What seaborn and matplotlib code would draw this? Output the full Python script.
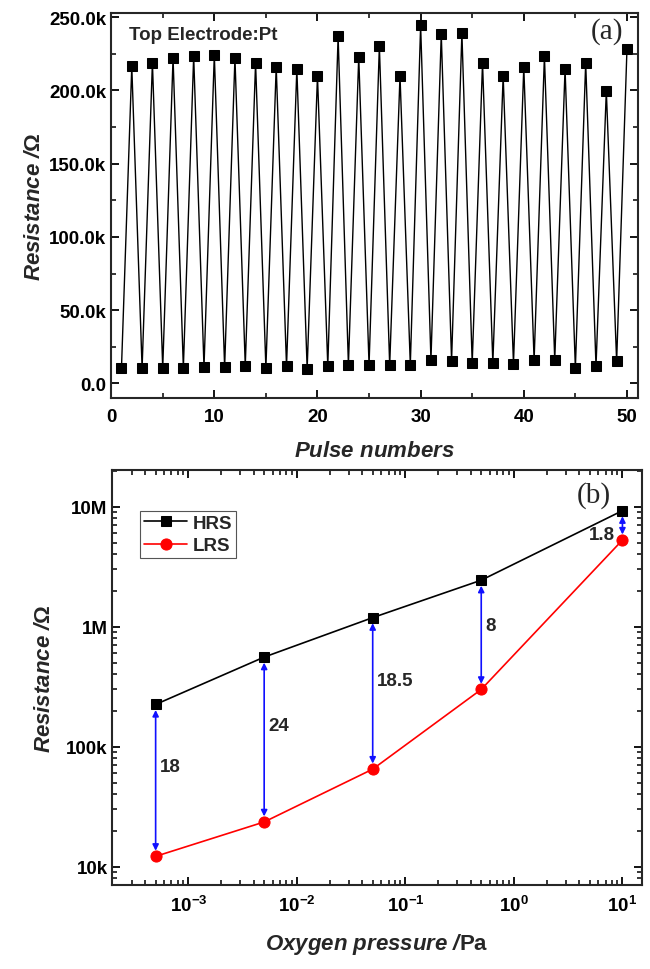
import numpy as np
import pandas as pd
import matplotlib
matplotlib.use('Agg')
import matplotlib.pyplot as plt
import matplotlib.ticker as mticker
import seaborn as sns

# ----------------------------------------------------
# Datos
# ----------------------------------------------------
pulse_low = [1, 3, 5, 7, 9, 11, 13, 15, 17, 19, 21, 23, 25, 27, 29,
             31, 33, 35, 37, 39, 41, 43, 45, 47, 49]
res_low_k = [10.3, 10.3, 10.5, 10.5, 10.9, 10.9, 12.0, 10.5, 11.6, 10.0,
             11.8, 12.5, 12.5, 12.3, 12.7, 15.9, 15.4, 13.7, 13.9, 13.4,
             15.7, 15.9, 10.3, 11.6, 15.0]
pulse_high = [2, 4, 6, 8, 10, 12, 14, 16, 18, 20, 22, 24, 26, 28, 30,
              32, 34, 36, 38, 40, 42, 44, 46, 48, 50]
res_high_k = [216.4, 219.1, 222.3, 223.5, 224.4, 222.3, 218.9, 216.2, 214.8, 210.0,
              236.9, 223.0, 230.3, 210.0, 244.4, 238.5, 239.2, 218.9, 210.0, 216.0,
              223.5, 214.8, 219.0, 199.8, 228.0]

pressure = [5e-4, 5e-3, 5e-2, 5e-1, 10]
hrs = [2.25e5, 5.58e5, 1.19e6, 2.44e6, 9.26e6]
lrs = [1.22e4, 2.36e4, 6.5e4, 3.0e5, 5.27e6]
ratio_labels = ['18', '24', '18.5', '8', '1.8']
ratio_label_y = [6.85e4, 1.49e5, 3.55e5, 1.02e6, 5.88e6]

df_a = pd.DataFrame({'pulse': pulse_low + pulse_high,
                     'res': [v * 1000 for v in res_low_k + res_high_k]}).sort_values('pulse')

# ----------------------------------------------------
# Estilo
# ----------------------------------------------------
sns.set_style('ticks')
plt.rcParams['font.family'] = ['Liberation Sans', 'DejaVu Sans']
plt.rcParams['font.sans-serif'] = ['Liberation Sans', 'DejaVu Sans']
plt.rcParams['mathtext.fontset'] = 'custom'
plt.rcParams['mathtext.bfit'] = 'sans:italic:bold'
plt.rcParams['mathtext.bf'] = 'sans:bold'
plt.rcParams['mathtext.rm'] = 'sans'
plt.rcParams['axes.linewidth'] = 1.5
for ax_name in ['xtick', 'ytick']:
    plt.rcParams[f'{ax_name}.direction'] = 'in'
    plt.rcParams[f'{ax_name}.major.width'] = 1.3
    plt.rcParams[f'{ax_name}.minor.width'] = 1.1
    plt.rcParams[f'{ax_name}.major.size'] = 6
    plt.rcParams[f'{ax_name}.minor.size'] = 3.5
    plt.rcParams[f'{ax_name}.color'] = 'black'
plt.rcParams['xtick.top'] = True
plt.rcParams['ytick.right'] = True

TICK_FS = 13.5
TXT_FS = 13.5
LAB_FS = 16

fig = plt.figure(figsize=(6.5, 9.7), dpi=100)
ax1 = fig.add_axes([0.171, 0.5887, 0.811, 0.397])
ax2 = fig.add_axes([0.173, 0.0869, 0.814, 0.4275])

# ----------------------------------------------------
# Panel (a)
# ----------------------------------------------------
sns.lineplot(data=df_a, x='pulse', y='res', ax=ax1, color='black', lw=1.0,
             marker='s', markersize=6.5, markeredgecolor='black', sort=False)
ax1.set_xlim(0, 51.1)
ax1.set_ylim(-10000, 253000)
ax1.xaxis.set_major_locator(mticker.MultipleLocator(10))
ax1.xaxis.set_minor_locator(mticker.MultipleLocator(5))
ax1.yaxis.set_major_locator(mticker.MultipleLocator(50000))
ax1.yaxis.set_minor_locator(mticker.MultipleLocator(25000))
ax1.yaxis.set_major_formatter(mticker.FuncFormatter(
    lambda v, p: '0.0' if abs(v) < 1 else f'{v / 1000:.1f}k'))
ax1.tick_params(which='both', top=True, right=True, labelsize=TICK_FS)
ax1.tick_params(axis='x', pad=7)
for lab in ax1.get_xticklabels() + ax1.get_yticklabels():
    lab.set_fontweight('bold')
ax1.set_xlabel(r'$\mathbfit{Pulse\ numbers}$', fontsize=LAB_FS, labelpad=11)
ax1.set_ylabel(r'$\mathbfit{Resistance\ /}$Ω', fontsize=LAB_FS, fontweight='bold', labelpad=3)
ax1.text(0.034, 0.966, 'Top Electrode:Pt', transform=ax1.transAxes, fontsize=TXT_FS,
         fontweight='bold', ha='left', va='top')
ax1.text(0.94, 0.955, '(a)', transform=ax1.transAxes, fontsize=21,
         family='Liberation Serif', ha='center', va='center')

# ----------------------------------------------------
# Panel (b)
# ----------------------------------------------------
sns.lineplot(x=pressure, y=hrs, ax=ax2, color='black', lw=1.2, marker='s',
             markersize=7, markeredgecolor='black', label='HRS')
sns.lineplot(x=pressure, y=lrs, ax=ax2, color='red', lw=1.2, marker='o',
             markersize=8, markeredgecolor='red', label='LRS')
ax2.set_xscale('log')
ax2.set_yscale('log')
ax2.set_xlim(2e-4, 15)
ax2.set_ylim(7.08e3, 2.02e7)

for x, h, l, txt, ty in zip(pressure, hrs, lrs, ratio_labels, ratio_label_y):
    ax2.annotate('', xy=(x, h), xytext=(x, l),
                 arrowprops=dict(arrowstyle='<|-|>', color='#1010ff', lw=1.2,
                                 shrinkA=4, shrinkB=4, mutation_scale=9))
    if txt == '1.8':
        ax2.annotate(txt, xy=(x, ty), xytext=(-5, 0), textcoords='offset points',
                     ha='right', va='center', fontsize=TXT_FS, fontweight='bold')
    else:
        ax2.annotate(txt, xy=(x, ty), xytext=(3, 0), textcoords='offset points',
                     ha='left', va='center', fontsize=TXT_FS, fontweight='bold')

ax2.xaxis.set_major_locator(mticker.FixedLocator([1e-3, 1e-2, 1e-1, 1, 10]))
ax2.set_xticklabels([r'$\mathbf{10^{-3}}$', r'$\mathbf{10^{-2}}$', r'$\mathbf{10^{-1}}$',
                     r'$\mathbf{10^{0}}$', r'$\mathbf{10^{1}}$'])
ax2.xaxis.set_minor_locator(mticker.LogLocator(base=10, subs=np.arange(2, 10), numticks=20))
ax2.xaxis.set_minor_formatter(mticker.NullFormatter())
ax2.yaxis.set_major_locator(mticker.FixedLocator([1e4, 1e5, 1e6, 1e7]))
ax2.set_yticklabels(['10k', '100k', '1M', '10M'])
ax2.yaxis.set_minor_locator(mticker.LogLocator(base=10, subs=np.arange(2, 10), numticks=20))
ax2.yaxis.set_minor_formatter(mticker.NullFormatter())
ax2.tick_params(which='both', top=True, right=True, labelsize=TICK_FS)
ax2.tick_params(axis='x', pad=7)
for lab in ax2.get_xticklabels() + ax2.get_yticklabels():
    lab.set_fontweight('bold')
ax2.set_xlabel(r'$\mathbfit{Oxygen\ pressure\ /}$Pa', fontsize=LAB_FS, fontweight='bold', labelpad=12)
ax2.set_ylabel(r'$\mathbfit{Resistance\ /}$Ω', fontsize=LAB_FS, fontweight='bold', labelpad=8)
ax2.text(0.91, 0.94, '(b)', transform=ax2.transAxes, fontsize=21,
         family='Liberation Serif', ha='center', va='center')

leg = ax2.legend(loc='upper left', bbox_to_anchor=(0.053, 0.902), frameon=True,
                 fancybox=False, edgecolor='#555555', framealpha=1,
                 prop={'weight': 'bold', 'size': TXT_FS}, handlelength=2.3,
                 borderpad=0.2, labelspacing=0.3, handletextpad=0.3,
                 borderaxespad=0)
leg.get_frame().set_linewidth(0.8)

fig.savefig('out.png', dpi=100)
